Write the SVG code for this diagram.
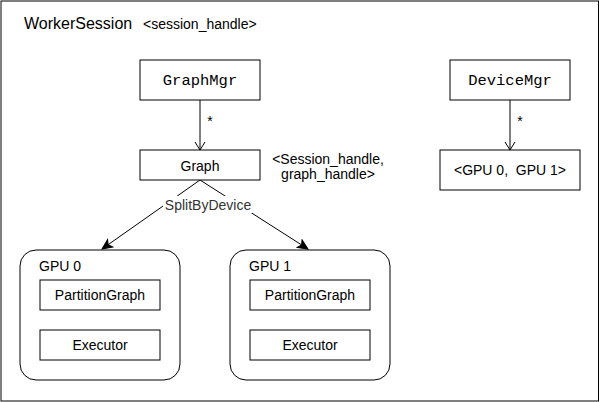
<svg xmlns="http://www.w3.org/2000/svg" width="601" height="402" viewBox="0 0 601 402">
<defs>
<marker id="open" markerWidth="12" markerHeight="12" viewBox="0 0 12 12" refX="11" refY="6" orient="auto" markerUnits="userSpaceOnUse">
<path d="M3,1 L11,6 L3,11" fill="none" stroke="#000" stroke-width="1"/>
</marker>
<marker id="filled" markerWidth="12" markerHeight="12" viewBox="0 0 12 12" refX="11" refY="6" orient="auto" markerUnits="userSpaceOnUse">
<path d="M1,1.5 L11,6 L1,10.5 L3.5,6 Z" fill="#000" stroke="#000" stroke-width="1"/>
</marker>
</defs>
<style>
.box{fill:#fff;stroke:#000;stroke-width:1}
.t{font-family:"Liberation Sans",Arial,sans-serif;font-size:14px;fill:#000}
.m{font-family:"Liberation Mono","Courier New",monospace;font-size:15.5px;fill:#000}
.edge{fill:none;stroke:#000;stroke-width:1}
</style>
<rect width="601" height="402" fill="#fff"/>
<g id="worker-session">
<rect x="1" y="1" width="597.5" height="400" fill="#fff" stroke="#000" stroke-width="1"/>
<text x="24" y="29" style="font-family:'Liberation Sans',Arial,sans-serif;font-size:16px">WorkerSession</text>
<text x="143" y="29" class="t">&lt;session_handle&gt;</text>
</g>
<g id="connectors">
<path class="edge" d="M200,100 L200,150" marker-end="url(#open)"/>
<text x="210" y="126" class="t" text-anchor="middle">*</text>
<path class="edge" d="M510,100 L510,150" marker-end="url(#open)"/>
<text x="520" y="126" class="t" text-anchor="middle">*</text>
<path class="edge" d="M200,180 L102,249" marker-end="url(#filled)"/>
<path class="edge" d="M200,180 L308,249" marker-end="url(#filled)"/>
<rect x="163" y="196" width="91" height="17" fill="#fff"/>
<text x="208" y="210" class="t" text-anchor="middle" style="fill:#333">SplitByDevice</text>
</g>
<g id="graphmgr">
<rect class="box" x="140" y="60" width="120" height="40"/>
<text x="200" y="85" class="m" text-anchor="middle">GraphMgr</text>
</g>
<g id="graph">
<rect class="box" x="140" y="150" width="120" height="30"/>
<text x="200" y="171" class="t" text-anchor="middle">Graph</text>
</g>
<g id="graph-handle-label">
<text x="328" y="164" class="t" text-anchor="middle">&lt;Session_handle,</text>
<text x="328" y="179" class="t" text-anchor="middle">graph_handle&gt;</text>
</g>
<g id="devicemgr">
<rect class="box" x="450" y="60" width="120" height="40"/>
<text x="510" y="85" class="m" text-anchor="middle">DeviceMgr</text>
</g>
<g id="gpu-list">
<rect class="box" x="440" y="150" width="140" height="40"/>
<text x="510" y="175" class="t" text-anchor="middle" xml:space="preserve" style="white-space:pre">&lt;GPU 0,  GPU 1&gt;</text>
</g>
<g id="gpu0">
<rect class="box" x="20" y="250" width="160" height="130" rx="16" ry="16"/>
<text x="39" y="271" class="t">GPU 0</text>
<rect class="box" x="40" y="280" width="120" height="30"/>
<text x="100" y="300" class="t" text-anchor="middle">PartitionGraph</text>
<rect class="box" x="40" y="330" width="120" height="30"/>
<text x="100" y="350" class="t" text-anchor="middle">Executor</text>
</g>
<g id="gpu1">
<rect class="box" x="230" y="250" width="160" height="130" rx="16" ry="16"/>
<text x="249" y="271" class="t">GPU 1</text>
<rect class="box" x="250" y="280" width="120" height="30"/>
<text x="310" y="300" class="t" text-anchor="middle">PartitionGraph</text>
<rect class="box" x="250" y="330" width="120" height="30"/>
<text x="310" y="350" class="t" text-anchor="middle">Executor</text>
</g>
</svg>
